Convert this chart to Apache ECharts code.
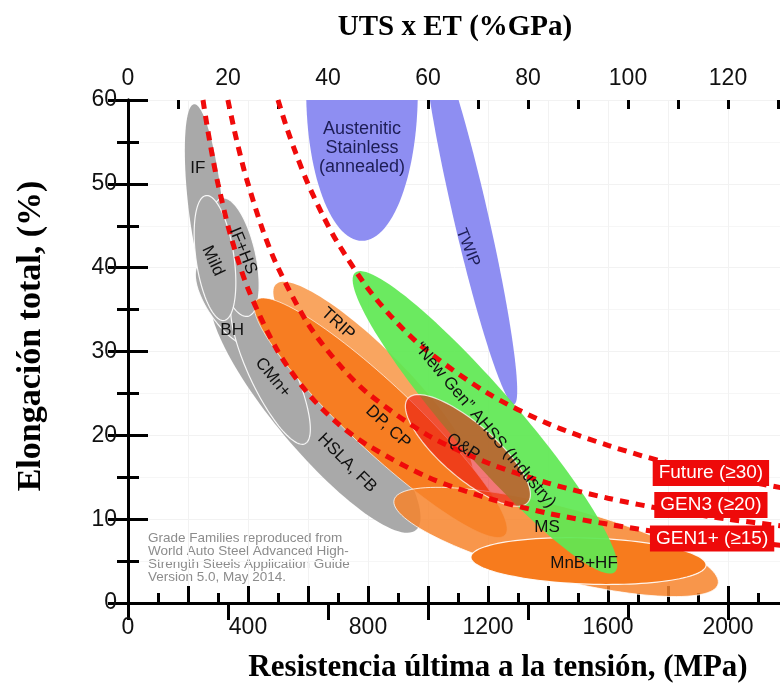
<!DOCTYPE html>
<html><head><meta charset="utf-8">
<script src="https://cdn.jsdelivr.net/npm/echarts@6/dist/echarts.min.js"></script>
<style>html,body{margin:0;padding:0;background:#fff}#c{width:780px;height:685px}</style>
</head><body><div id="c"></div>
<script>
// ---- Steel grade regions: ellipse between two end points (UTS MPa, ET %) with width ratio ----
const regionNames    = ['Austenitic Stainless','TWIP','HSLA, FB','IF','BH','CMn+','IF+HS','Mild','TRIP','DP, CP','MS','MnB+HF','New Gen AHSS','Q&P'];
const regionStartUTS = [780,  993,  290,  220,  240,  360,  313,  260,  493,  427,  887,  1143, 757,  933];
const regionStartET  = [78.9, 69.4, 37.3, 59.5, 40.6, 36.7, 48.3, 48.6, 38.0, 36.1, 12.3, 5.48, 39.4, 24.4];
const regionEndUTS   = [780,  1287, 960,  293,  433,  590,  400,  320,  1140, 1257, 1967, 1927, 1623, 1333];
const regionEndET    = [43.2, 23.7, 8.7,  36.1, 30.7, 19.0, 34.2, 33.7, 14.9, 8.1,  2.26, 4.52, 3.7,  12.0];
const regionWidth    = [0.373,0.088,0.256,0.172,0.415,0.269,0.345,0.301,0.233,0.193,0.215,0.196,0.17, 0.34];

// ---- Iso UTS x ET curves ----
const future30UTS = [500, 530, 560, 600, 650, 700, 800, 900, 1000, 1200, 1400, 1600, 1800, 2000, 2200];
const future30ET  = [60, 56.6, 53.6, 50, 46.2, 42.9, 37.5, 33.3, 30, 25, 21.4, 18.8, 16.7, 15, 13.6];
const gen3UTS = [333, 355, 380, 400, 450, 500, 600, 700, 800, 1000, 1200, 1400, 1600, 1800, 2000, 2200];
const gen3ET  = [60, 56.3, 52.6, 50, 44.4, 40, 33.3, 28.6, 25, 20, 16.7, 14.3, 12.5, 11.1, 10, 9.1];
const gen1UTS = [250, 265, 285, 300, 340, 400, 500, 600, 700, 800, 1000, 1200, 1400, 1600, 1800, 2000, 2200];
const gen1ET  = [60, 56.6, 52.6, 50, 44.1, 37.5, 30, 25, 21.4, 18.8, 15, 12.5, 10.7, 9.4, 8.3, 7.5, 6.8];

// ---- Region labels ----
const labelTexts = ['IF','Mild','IF+HS','BH','CMn+','HSLA, FB','TRIP','DP, CP','Q&P','\u201cNew Gen\u201d AHSS (Industry)','MS','MnB+HF','Austenitic\nStainless\n(annealed)','TWIP'];
const labelUTS   = [233, 283, 383, 347, 483, 730, 700, 867, 1117, 1190, 1397, 1520, 780, 1133];
const labelET    = [51.8, 40.8, 42.0, 32.5, 26.9, 16.7, 33.3, 21.0, 18.6, 21.2, 9.05, 4.76, 54.3, 42.4];

// ---- Target boxes ----
const targetTexts = ['Future (\u226530)','GEN3 (\u226520)','GEN1+ (\u226515)'];
const targetUTS   = [1943, 1943, 1947];
const targetET    = [15.5, 11.7, 7.7];

// ---- styles (not data) ----
const GRAY='#a9a9a9', BLUE='#8e8ef2', WL='rgba(255,255,255,0.9)';
const regionStyles = {
  'Austenitic Stainless':{fill:BLUE}, 'TWIP':{fill:BLUE},
  'HSLA, FB':{fill:GRAY}, 'IF':{fill:GRAY},
  'BH':{fill:GRAY,stroke:WL,lw:1.2}, 'CMn+':{fill:GRAY,stroke:WL,lw:1.2},
  'IF+HS':{fill:GRAY,stroke:WL,lw:1.2}, 'Mild':{fill:GRAY,stroke:WL,lw:1.2},
  'TRIP':{fill:'#f9a560'},
  'DP, CP':{fill:'#f77d22',stroke:'rgba(255,255,255,0.65)',lw:1},
  'MS':{fill:'#f7842c',stroke:WL,lw:1,opacity:0.85},
  'MnB+HF':{fill:'#f77b1d',stroke:WL,lw:1.2},
  'New Gen AHSS':{fill:'#5ee852',opacity:0.92},
  'Q&P':{fill:'rgba(232,20,20,0.58)',stroke:'rgba(255,255,255,0.75)',lw:1.2}
};
const labelStyles = {
  'Mild':{rotate:-65}, 'IF+HS':{rotate:-68}, 'CMn+':{rotate:-51}, 'HSLA, FB':{rotate:-45},
  'TRIP':{rotate:-42}, 'DP, CP':{rotate:-43}, 'Q&P':{rotate:-33},
  '\u201cNew Gen\u201d AHSS (Industry)':{rotate:-50},
  'Austenitic\nStainless\n(annealed)':{color:'#1d1d55',lineHeight:19,fontSize:18},
  'TWIP':{rotate:-68,color:'#1d1d55',fontSize:16}
};

function renderRegion(params, api){
  const p1 = api.coord([api.value(0), api.value(1)]);
  const p2 = api.coord([api.value(2), api.value(3)]);
  const r = api.value(4);
  const st = regionStyles[regionNames[api.value(5)]];
  const cx=(p1[0]+p2[0])/2, cy=(p1[1]+p2[1])/2;
  const dx=p2[0]-p1[0], dy=p2[1]-p1[1];
  const a=Math.hypot(dx,dy)/2, b=a*r, ang=Math.atan2(dy,dx);
  const ca=Math.cos(ang), sa=Math.sin(ang);
  const pts=[];
  for(let k=0;k<120;k++){
    const t=k/120*2*Math.PI, ex=a*Math.cos(t), ey=b*Math.sin(t);
    pts.push([cx+ex*ca-ey*sa, cy+ex*sa+ey*ca]);
  }
  return {type:'polygon', shape:{points:pts},
    style:{fill:st.fill, stroke:st.stroke||null, lineWidth:st.lw||0, opacity:st.opacity==null?1:st.opacity}};
}

const zip=(xs,ys)=>xs.map((x,i)=>[x,ys[i]]);
const AX='#000';
const tickFont='Liberation Sans, Arial, sans-serif';
const curveStyle={color:'#f00a0a', width:5, type:[9,7]};

const chart = echarts.init(document.getElementById('c'), null, {renderer:'canvas'});
chart.setOption({
  animation:false,
  backgroundColor:'#fff',
  grid:{left:128, top:100, width:660, height:503, containLabel:false, outerBoundsMode:'none'},
  xAxis:[
    {type:'value', position:'bottom', min:0, max:2200, interval:200,
     axisLine:{lineStyle:{color:AX,width:3}},
     axisTick:{inside:true,length:17,lineStyle:{color:AX,width:3}},
     minorTick:{show:true,splitNumber:2,length:10,lineStyle:{color:AX,width:3}},
     axisLabel:{formatter:v=>v%400===0?String(v):'', fontSize:23, color:'#111', margin:13, fontFamily:tickFont, showMaxLabel:false},
     splitLine:{show:true,lineStyle:{color:'#f2f2f2',width:1}}},
    {type:'value', position:'top', min:0, max:132, interval:20,
     axisLine:{lineStyle:{color:AX,width:3}},
     axisTick:{inside:true,length:17,lineStyle:{color:AX,width:3}},
     axisLabel:{formatter:v=>v%20===0?String(v):'', fontSize:23, color:'#111', margin:10, fontFamily:tickFont, showMaxLabel:false},
     splitLine:{show:false}},
    {type:'value', position:'top', min:0, max:132, interval:10,
     axisLine:{show:false},
     axisTick:{inside:true,length:9,lineStyle:{color:AX,width:3}},
     axisLabel:{show:false}, splitLine:{show:false}}
  ],
  yAxis:[
    {type:'value', position:'left', min:0, max:60, interval:10,
     axisLine:{show:true,lineStyle:{color:AX,width:3}},
     axisTick:{show:true,inside:true,length:20,lineStyle:{color:AX,width:3}},
     minorTick:{show:true,splitNumber:2,length:11,lineStyle:{color:AX,width:3}},
     axisLabel:{fontSize:23,color:'#111',margin:11,fontFamily:tickFont},
     splitLine:{show:true,lineStyle:{color:'#f2f2f2',width:1}},
     minorSplitLine:{show:true,lineStyle:{color:'#f6f6f6',width:1}}},
    {type:'value', position:'right', min:0, max:60, interval:10,
     axisLine:{show:true,lineStyle:{color:AX,width:3}},
     axisTick:{show:true,inside:true,length:20,lineStyle:{color:AX,width:3}},
     minorTick:{show:true,splitNumber:2,length:11,lineStyle:{color:AX,width:3}},
     axisLabel:{show:false}, splitLine:{show:false}}
  ],
  graphic:[
    {type:'text', x:455, y:28, style:{text:'UTS x ET (%GPa)', font:'bold 29px "Liberation Serif", serif', fill:'#000', align:'center', verticalAlign:'middle'}},
    {type:'text', x:498, y:668, style:{text:'Resistencia \u00faltima a la tensi\u00f3n, (MPa)', font:'bold 31px "Liberation Serif", serif', fill:'#000', align:'center', verticalAlign:'middle'}},
    {type:'text', x:31, y:336, rotation:Math.PI/2, style:{text:'Elongaci\u00f3n total, (%)', font:'bold 34px "Liberation Serif", serif', fill:'#000', align:'center', verticalAlign:'middle'}},
    {type:'text', x:148, y:532, style:{text:'Grade Families reproduced from\nWorld Auto Steel Advanced High-\nStrength Steels Application Guide\nVersion 5.0, May 2014.', font:'13.5px "Liberation Sans", Arial, sans-serif', fill:'#8c8c8c', lineHeight:13}}
  ],
  series:[
    {type:'custom', name:'regions', renderItem:renderRegion, clip:true, silent:true, z:1,
     encode:{x:[0,2], y:[1,3]},
     data: regionNames.map((n,i)=>[regionStartUTS[i],regionStartET[i],regionEndUTS[i],regionEndET[i],regionWidth[i],i])},
    {type:'line', name:'Future', data:zip(future30UTS,future30ET), smooth:0.3, symbol:'none', lineStyle:curveStyle, z:3, silent:true},
    {type:'line', name:'GEN3', data:zip(gen3UTS,gen3ET), smooth:0.3, symbol:'none', lineStyle:curveStyle, z:3, silent:true},
    {type:'line', name:'GEN1+', data:zip(gen1UTS,gen1ET), smooth:0.3, symbol:'none', lineStyle:curveStyle, z:3, silent:true},
    {type:'scatter', name:'labels', symbolSize:0, z:4, silent:true, itemStyle:{opacity:1},
     data: labelTexts.map((t,i)=>{
       const s = labelStyles[t]||{};
       return {name:t, value:[labelUTS[i],labelET[i]],
         label:{show:true, position:'inside', formatter:'{b}', rotate:s.rotate||0,
           color:s.color||'#111', fontSize:s.fontSize||17, lineHeight:s.lineHeight||20,
           fontFamily:'Liberation Sans, Arial, sans-serif', align:'center', verticalAlign:'middle', opacity:1}};
     })},
    {type:'scatter', name:'targets', symbolSize:0, z:5, silent:true, itemStyle:{opacity:1},
     data: targetTexts.map((t,i)=>({name:t, value:[targetUTS[i],targetET[i]],
       label:{show:true, position:'inside', formatter:'{b}', color:'#fff', fontSize:19, opacity:1,
         fontFamily:'Liberation Sans, Arial, sans-serif', backgroundColor:'#ee0a0a', padding:[4,6,3,6]}}))}
  ]
});
</script></body></html>
